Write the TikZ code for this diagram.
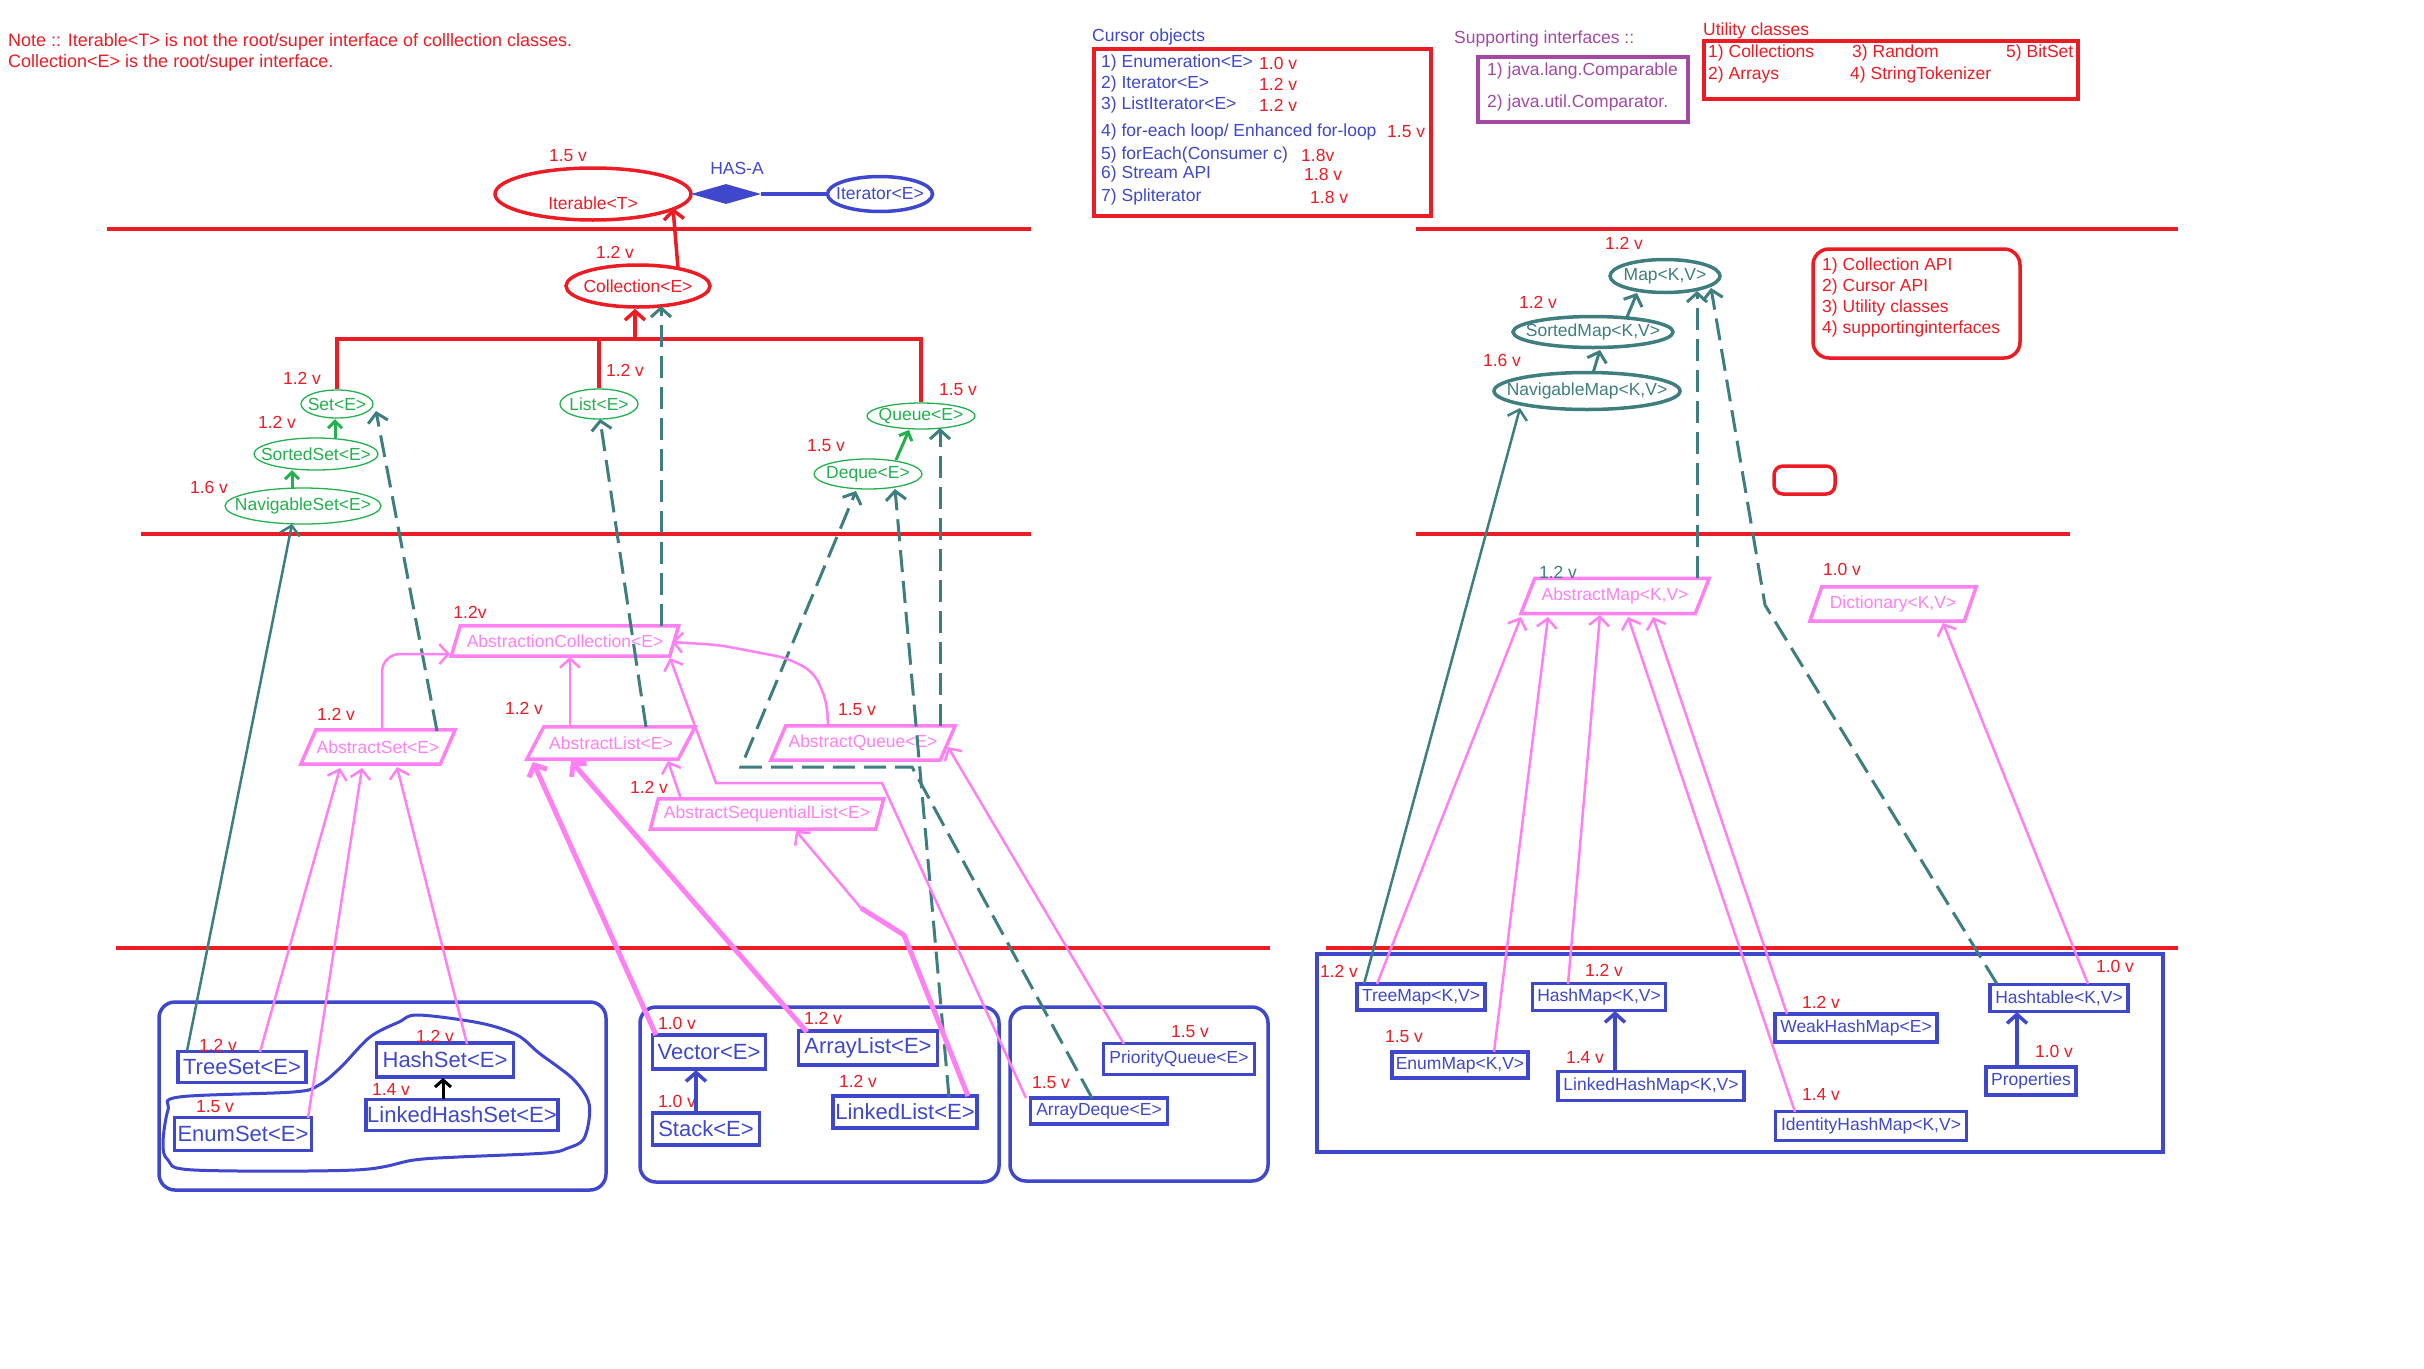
\documentclass[tikz,border=0pt]{standalone}
\usepackage{fontspec}
\setmainfont{Liberation Sans}
\usetikzlibrary{shapes.geometric,arrows.meta}

\definecolor{pred}{RGB}{237,28,36}
\definecolor{pblue}{RGB}{63,72,204}
\definecolor{pgreen}{RGB}{34,177,76}
\definecolor{ppink}{RGB}{255,128,242}
\definecolor{pteal}{RGB}{62,126,126}
\definecolor{ppurple}{RGB}{163,73,164}

\newcommand\dgfont{\fontsize{17.5pt}{21pt}\selectfont}
\newcommand\notefont{\fontsize{18pt}{21pt}\selectfont}
\newcommand\bigfont{\fontsize{22pt}{26pt}\selectfont}
\newcommand\zwbox[1]{\makebox[0pt]{#1}}
% parallelogram outline around a named label node: #1 node, #2 slant
\newcommand\slantbox[2]{\draw[slantedge] ([xshift=#2pt]#1.north west) -- (#1.north east) -- ([xshift=-#2pt]#1.south east) -- (#1.south west) -- cycle;}

\tikzset{
  every node/.style={font=\dgfont, inner sep=0pt},
  vlabel/.style={text=pred},
  iface/.style={ellipse, draw=pred, line width=3.5pt, text=pred},
  giface/.style={ellipse, draw=pgreen, line width=1.3pt, text=pgreen},
  miface/.style={ellipse, draw=pteal, line width=3.5pt, text=pteal},
  absnode/.style={rectangle, text=ppink},
  slantedge/.style={draw=ppink, line width=3.5pt, line join=miter},
  impl/.style={rectangle, draw=pblue, line width=3.5pt, text=pblue, fill=white},
  implbig/.style={impl, font=\bigfont},
  barbed/.style={-{Straight Barb[length=9pt,width=20pt]}},
  redarrow/.style={draw=pred, line width=3.5pt, barbed},
  tealdash/.style={draw=pteal, line width=3pt, dash pattern=on 22pt off 9pt, barbed},
  tealline/.style={draw=pteal, line width=2.5pt, barbed},
  greenarrow/.style={draw=pgreen, line width=3pt, -{Straight Barb[length=7pt,width=14pt]}},
  pinkarrow/.style={draw=ppink, line width=2.5pt, barbed},
  pinkthick/.style={draw=ppink, line width=5pt, barbed},
  bluearrow/.style={draw=pblue, line width=3.5pt, barbed},
  divider/.style={draw=pred, line width=3.5pt},
  container/.style={draw=pblue, line width=3.5pt},
  infobox/.style={draw=pred, line width=3.5pt},
}

\begin{document}
\begin{tikzpicture}[x=1pt, y=-1pt]
\useasboundingbox (0,0) rectangle (2424,1368);
\fill[white] (0,0) rectangle (2424,1368);

% ---- section dividers
\draw[divider] (107,229) -- (1031,229);
\draw[divider] (1416,229) -- (2178,229);
\draw[divider] (141,534) -- (1031,534);
\draw[divider] (1416,534) -- (2070,534);
\draw[divider] (116,948) -- (1270,948);
\draw[divider] (1326,948) -- (2178,948);

% ---- implementation groups
\draw[container, rounded corners=16pt] (159,1002) rectangle (606,1190);
\draw[container, rounded corners=16pt] (640,1007) rectangle (999,1182);
\draw[container, rounded corners=16pt] (1010,1007) rectangle (1268,1181);
\draw[container] (1317,954) rectangle (2163,1152);
\draw[container, line width=3pt] plot[smooth cycle, tension=0.55] coordinates {
  (418,1015) (480,1023) (517,1035) (539,1053) (572,1078) (588,1100) (589,1120)
  (583,1140) (568,1148) (546,1153) (458,1157) (414,1160) (355,1170) (194,1170)
  (168,1160) (163,1143) (168,1110) (179,1097) (293,1092) (319,1085) (341,1067)
  (370,1037) (399,1022)};

% ---- notes
\node[anchor=west, text=pred, font=\notefont] (note1) at (8,42) {Note :: Iterable<T> is not the root/super interface of colllection classes.};
\node[anchor=west, text=pred, font=\notefont] (note2) at (8,63) {Collection<E> is the root/super interface.};

% ---- cursor objects
\node[anchor=west, text=pblue] (curtitle) at (1092,37) {Cursor objects};
\draw[infobox] (1094,49) rectangle (1431,216);
\node[anchor=west, text=pblue] (cur1) at (1101,63) {1) Enumeration<E>};
\node[anchor=west, vlabel] (cur1v) at (1259,63) {1.0 v};
\node[anchor=west, text=pblue] (cur2) at (1101,84) {2) Iterator<E>};
\node[anchor=west, vlabel] (cur2v) at (1259,84) {1.2 v};
\node[anchor=west, text=pblue] (cur3) at (1101,105) {3) ListIterator<E>};
\node[anchor=west, vlabel] (cur3v) at (1259,105) {1.2 v};
\node[anchor=west, text=pblue] (cur4) at (1101,132) {4) for-each loop/ Enhanced for-loop};
\node[anchor=west, vlabel] (cur4v) at (1387,132) {1.5 v};
\node[anchor=west, text=pblue] (cur5) at (1101,155) {5) forEach(Consumer c)};
\node[anchor=west, vlabel] (cur5v) at (1301,155) {1.8v};
\node[anchor=west, text=pblue] (cur6) at (1101,174) {6) Stream API};
\node[anchor=west, vlabel] (cur6v) at (1304,174) {1.8 v};
\node[anchor=west, text=pblue] (cur7) at (1101,197) {7) Spliterator};
\node[anchor=west, vlabel] (cur7v) at (1310,197) {1.8 v};

% ---- supporting interfaces
\node[anchor=west, text=ppurple] (suptitle) at (1454,39) {Supporting interfaces ::};
\draw[draw=ppurple, line width=3.5pt] (1478,57) rectangle (1688,122);
\node[anchor=west, text=ppurple] (sup1) at (1487,71) {1) java.lang.Comparable};
\node[anchor=west, text=ppurple] (sup2) at (1487,103) {2) java.util.Comparator.};

% ---- utility classes
\node[anchor=west, text=pred] (utiltitle) at (1703,31) {Utility classes};
\draw[infobox] (1704,41) rectangle (2078,99);
\node[anchor=west, text=pred] (util1) at (1708,53) {1) Collections};
\node[anchor=west, text=pred] (util3) at (1852,53) {3) Random};
\node[anchor=west, text=pred] (util5) at (2006,53) {5) BitSet};
\node[anchor=west, text=pred] (util2) at (1708,75) {2) Arrays};
\node[anchor=west, text=pred] (util4) at (1850,75) {4) StringTokenizer};

% ---- legend
\draw[infobox, rounded corners=16pt] (1813,249) rectangle (2020,358);
\node[anchor=west, text=pred] (leg1) at (1822,266) {1) Collection API};
\node[anchor=west, text=pred] (leg2) at (1822,287) {2) Cursor API};
\node[anchor=west, text=pred] (leg3) at (1822,308) {3) Utility classes};
\node[anchor=west, text=pred] (leg4) at (1822,329) {4) supportinginterfaces};
\draw[infobox, rounded corners=9pt] (1774,466) rectangle (1835,494);

% ---- top interfaces
\node[iface, minimum width=196pt, minimum height=52pt] (iter) at (593,194) {\rule{0pt}{32pt}Iterable<T>};
\node[vlabel] (v01) at (568,156) {1.5 v};
\node[diamond, fill=pblue, minimum width=70pt, minimum height=20pt] (hasa) at (726,194) {};
\node[text=pblue] (hasat) at (737,168) {HAS-A};
\node[ellipse, draw=pblue, line width=3.5pt, text=pblue, minimum width=105pt, minimum height=35pt] (itr) at (880,194) {\zwbox{Iterator<E>}};
\draw[draw=pblue, line width=3.5pt] (hasa.east) -- (itr.west);

\node[iface, minimum width=144pt, minimum height=42pt] (coll) at (638,286) {\zwbox{Collection<E>}};
\node[vlabel] (v02) at (615,252) {1.2 v};

\node[giface, minimum width=72pt, minimum height=28pt] (set) at (337,404) {\zwbox{Set<E>}};
\node[vlabel] (v03) at (302,378) {1.2 v};
\node[giface, minimum width=124pt, minimum height=32pt] (sset) at (316,454) {\zwbox{SortedSet<E>}};
\node[vlabel] (v04) at (277,422) {1.2 v};
\node[giface, minimum width=156pt, minimum height=36pt] (nset) at (303,506) {\zwbox{NavigableSet<E>}};
\node[vlabel] (v05) at (209,487) {1.6 v};
\node[giface, minimum width=78pt, minimum height=30pt] (list) at (599,404) {\zwbox{List<E>}};
\node[vlabel] (v06) at (625,370) {1.2 v};
\node[giface, minimum width=108pt, minimum height=26pt] (queue) at (921,416) {\zwbox{Queue<E>}};
\node[vlabel] (v07) at (958,390) {1.5 v};
\node[giface, minimum width=108pt, minimum height=30pt] (deque) at (868,474) {\zwbox{Deque<E>}};
\node[vlabel] (v08) at (826,446) {1.5 v};

\node[miface, minimum width=110pt, minimum height=33pt] (map) at (1665,276) {\zwbox{Map<K,V>}};
\node[vlabel] (v09) at (1624,243) {1.2 v};
\node[miface, minimum width=160pt, minimum height=31pt] (smap) at (1593,332) {\zwbox{SortedMap<K,V>}};
\node[vlabel] (v10) at (1538,302) {1.2 v};
\node[miface, minimum width=186pt, minimum height=37pt] (nmap) at (1587,391) {\zwbox{NavigableMap<K,V>}};
\node[vlabel] (v11) at (1502,360) {1.6 v};

% ---- abstract classes
\node[absnode, minimum width=227pt, minimum height=30pt] (acoll) at (565,641) {AbstractionCollection<E>};
\slantbox{acoll}{9}
\node[vlabel] (v12) at (470,612) {1.2v};
\node[absnode, minimum width=154pt, minimum height=34pt] (aset) at (378,747) {AbstractSet<E>};
\slantbox{aset}{15}
\node[vlabel] (v13) at (336,714) {1.2 v};
\node[absnode, minimum width=168pt, minimum height=32pt] (alist) at (611,743) {AbstractList<E>};
\slantbox{alist}{17}
\node[vlabel] (v14) at (524,708) {1.2 v};
\node[absnode, minimum width=184pt, minimum height=34pt] (aqueue) at (863,743) {AbstractQueue<E>};
\slantbox{aqueue}{15}
\node[vlabel] (v15) at (857,710) {1.5 v};
\node[absnode, minimum width=233pt, minimum height=30pt] (aslist) at (767,814) {AbstractSequentialList<E>};
\slantbox{aslist}{8}
\node[vlabel] (v16) at (649,787) {1.2 v};
\node[absnode, minimum width=188pt, minimum height=35pt] (amap) at (1615,596) {AbstractMap<K,V>};
\slantbox{amap}{14}
\node[text=pteal] (v17) at (1558,572) {1.2 v};
\node[absnode, minimum width=166pt, minimum height=34pt] (dict) at (1893,604) {Dictionary<K,V>};
\slantbox{dict}{12}
\node[vlabel] (v18) at (1842,569) {1.0 v};

% ---- implementation classes
\node[implbig, minimum width=128pt, minimum height=31pt] (treeset) at (242,1067) {TreeSet<E>};
\node[vlabel] (v19) at (218,1045) {1.2 v};
\node[implbig, minimum width=137pt, minimum height=34pt] (hashset) at (445,1060) {HashSet<E>};
\node[vlabel] (v20) at (435,1036) {1.2 v};
\node[implbig, minimum width=192pt, minimum height=31pt] (lhset) at (462,1115) {LinkedHashSet<E>};
\node[vlabel] (v21) at (391,1089) {1.4 v};
\node[implbig, minimum width=137pt, minimum height=33pt] (enumset) at (243,1134) {EnumSet<E>};
\node[vlabel] (v22) at (215,1107) {1.5 v};
\node[implbig, minimum width=113pt, minimum height=34pt] (vector) at (709,1052) {Vector<E>};
\node[vlabel] (v23) at (677,1023) {1.0 v};
\node[implbig, minimum width=139pt, minimum height=34pt] (arraylist) at (868,1048) {ArrayList<E>};
\node[vlabel] (v24) at (823,1018) {1.2 v};
\node[implbig, minimum width=107pt, minimum height=32pt] (stack) at (706,1129) {Stack<E>};
\node[vlabel] (v25) at (677,1101) {1.0 v};
\node[implbig, minimum width=144pt, minimum height=32pt] (linkedlist) at (905,1112) {LinkedList<E>};
\node[vlabel] (v26) at (858,1081) {1.2 v};
\node[impl, minimum width=151pt, minimum height=31pt] (pq) at (1179,1059) {PriorityQueue<E>};
\node[vlabel] (v27) at (1190,1032) {1.5 v};
\node[impl, minimum width=137pt, minimum height=26pt] (adeque) at (1099,1111) {ArrayDeque<E>};
\node[vlabel] (v28) at (1051,1083) {1.5 v};

\node[impl, minimum width=128pt, minimum height=26pt] (treemap) at (1421,997) {TreeMap<K,V>};
\node[vlabel] (v29) at (1339,971) {1.2 v};
\node[impl, minimum width=133pt, minimum height=27pt] (hashmap) at (1599,997) {HashMap<K,V>};
\node[vlabel] (v30) at (1604,970) {1.2 v};
\node[impl, minimum width=136pt, minimum height=26pt] (enummap) at (1460,1065) {EnumMap<K,V>};
\node[vlabel] (v31) at (1404,1037) {1.5 v};
\node[impl, minimum width=186pt, minimum height=29pt] (lhmap) at (1651,1086) {LinkedHashMap<K,V>};
\node[vlabel] (v32) at (1585,1057) {1.4 v};
\node[impl, minimum width=162pt, minimum height=28pt] (whmap) at (1856,1028) {WeakHashMap<E>};
\node[vlabel] (v33) at (1821,1002) {1.2 v};
\node[impl, minimum width=191pt, minimum height=29pt] (ihmap) at (1871,1126) {IdentityHashMap<K,V>};
\node[vlabel] (v34) at (1821,1094) {1.4 v};
\node[impl, minimum width=138pt, minimum height=27pt] (htable) at (2059,998) {Hashtable<K,V>};
\node[vlabel] (v35) at (2115,966) {1.0 v};
\node[impl, minimum width=90pt, minimum height=28pt] (props) at (2031,1081) {Properties};
\node[vlabel] (v36) at (2054,1051) {1.0 v};

% ---- interface hierarchy (red / green)
\draw[redarrow] ([shift={(40,-18)}]coll.center) -- ([shift={(80,14)}]iter.center);
\coordinate (bus) at (635,339);
\draw[divider] (set.north) |- (bus) -| (queue.north);
\draw[divider] (list.north) -- (list.north |- bus);
\draw[redarrow] (bus) -- (bus |- coll.south);
\draw[greenarrow] ([shift={(19,-16)}]sset.center) -- ([shift={(-2,15)}]set.center);
\draw[greenarrow] ([shift={(-11,-18)}]nset.center) -- ([shift={(-24,16)}]sset.center);
\draw[greenarrow] ([shift={(28,-14)}]deque.center) -- ([shift={(-12,14)}]queue.center);
\draw[tealline, line width=3pt] ([shift={(34,-15)}]smap.center) -- ([shift={(-28,17)}]map.center);
\draw[tealline, line width=3pt] ([shift={(6,-18)}]nmap.center) -- ([shift={(7,18)}]smap.center);

% ---- implements (teal)
\draw[tealdash] ([shift={(96,-15)}]acoll.center) -- ([shift={(23,20)}]coll.center);
\draw[tealdash] ([shift={(35,-16)}]alist.center) -- ([shift={(1,15)}]list.center);
\draw[tealdash] ([shift={(59,-16)}]aset.center) -- ([shift={(39,7)}]set.center);
\draw[tealdash] ([shift={(77,-17)}]aqueue.center) -- ([shift={(19,12)}]queue.center);
\draw[tealdash] ([shift={(44,-15)}]linkedlist.center) -- ([shift={(27,15)}]deque.center);
\draw[tealdash] ([shift={(-7,-13)}]adeque.center) -- (912,767) -- (741,767) -- ([shift={(-12,17)}]deque.center);
\draw[tealline] ([shift={(-55,-16)}]treeset.center) -- ([shift={(-11,18)}]nset.center);
\draw[tealline] ([shift={(-57,-13)}]treemap.center) -- ([shift={(-67,17)}]nmap.center);
\draw[tealdash] ([shift={(82,-18)}]amap.center) -- ([shift={(32,15)}]map.center);
\draw[tealdash] ([shift={(-62,-14)}]htable.center) -- (1765,605) -- ([shift={(46,12)}]map.center);

% ---- extends (pink)
\draw[pinkarrow, rounded corners=18pt] ([shift={(4,-17)}]aset.center) |- ([shift={(-115,13)}]acoll.center);
\draw[pinkarrow] ([shift={(-41,-16)}]alist.center) -- ([shift={(5,16)}]acoll.center);
\draw[pinkarrow, rounded corners=12pt] ([shift={(-35,-17)}]aqueue.center) -- (827,702) -- (814,672) -- (787,658) -- (719,645) -- ([shift={(107,1)}]acoll.center);
\draw[pinkarrow] ([shift={(-86,-15)}]aslist.center) -- ([shift={(57,18)}]alist.center);
\draw[pinkarrow] ([shift={(-73,-13)}]adeque.center) -- (882,783) -- (716,783) -- ([shift={(105,17)}]acoll.center);
\draw[pinkarrow] ([shift={(-55,-15)}]pq.center) -- ([shift={(85,4)}]aqueue.center);
\draw[pinkthick] ([shift={(-53,-17)}]vector.center) -- ([shift={(-78,19)}]alist.center);
\draw[pinkthick] ([shift={(-61,-16)}]arraylist.center) -- ([shift={(-40,18)}]alist.center);
\draw[pinkthick, -] ([shift={(63,-16)}]linkedlist.center) -- (904,935) -- (861,908);
\draw[pinkarrow] (861,908) -- ([shift={(29,17)}]aslist.center);
\draw[pinkarrow] ([shift={(18,-15)}]treeset.center) -- ([shift={(-38,21)}]aset.center);
\draw[pinkarrow] ([shift={(65,-16)}]enumset.center) -- ([shift={(-16,21)}]aset.center);
\draw[pinkarrow] ([shift={(22,-16)}]hashset.center) -- ([shift={(19,20)}]aset.center);
\draw[pinkarrow] ([shift={(-44,-13)}]treemap.center) -- ([shift={(-94,21)}]amap.center);
\draw[pinkarrow] ([shift={(34,-13)}]enummap.center) -- ([shift={(-67,21)}]amap.center);
\draw[pinkarrow] ([shift={(-31,-13)}]hashmap.center) -- ([shift={(-15,19)}]amap.center);
\draw[pinkarrow] ([shift={(-76,-14)}]ihmap.center) -- ([shift={(13,21)}]amap.center);
\draw[pinkarrow] ([shift={(-69,-14)}]whmap.center) -- ([shift={(38,21)}]amap.center);
\draw[pinkarrow] ([shift={(29,-14)}]htable.center) -- ([shift={(50,19)}]dict.center);

% ---- extends within the implementation groups
\draw[bluearrow] ([shift={(-36,-15)}]lhmap.center) -- ([shift={(16,14)}]hashmap.center);
\draw[bluearrow] ([shift={(-14,-14)}]props.center) -- ([shift={(-42,14)}]htable.center);
\draw[bluearrow] ([shift={(-10,-16)}]stack.center) -- ([shift={(-13,18)}]vector.center);
\draw[draw=black, line width=3pt, -{Straight Barb[length=7pt,width=16pt]}] ([shift={(-19,-16)}]lhset.center) -- ([shift={(-2,18)}]hashset.center);
\end{tikzpicture}
\end{document}
